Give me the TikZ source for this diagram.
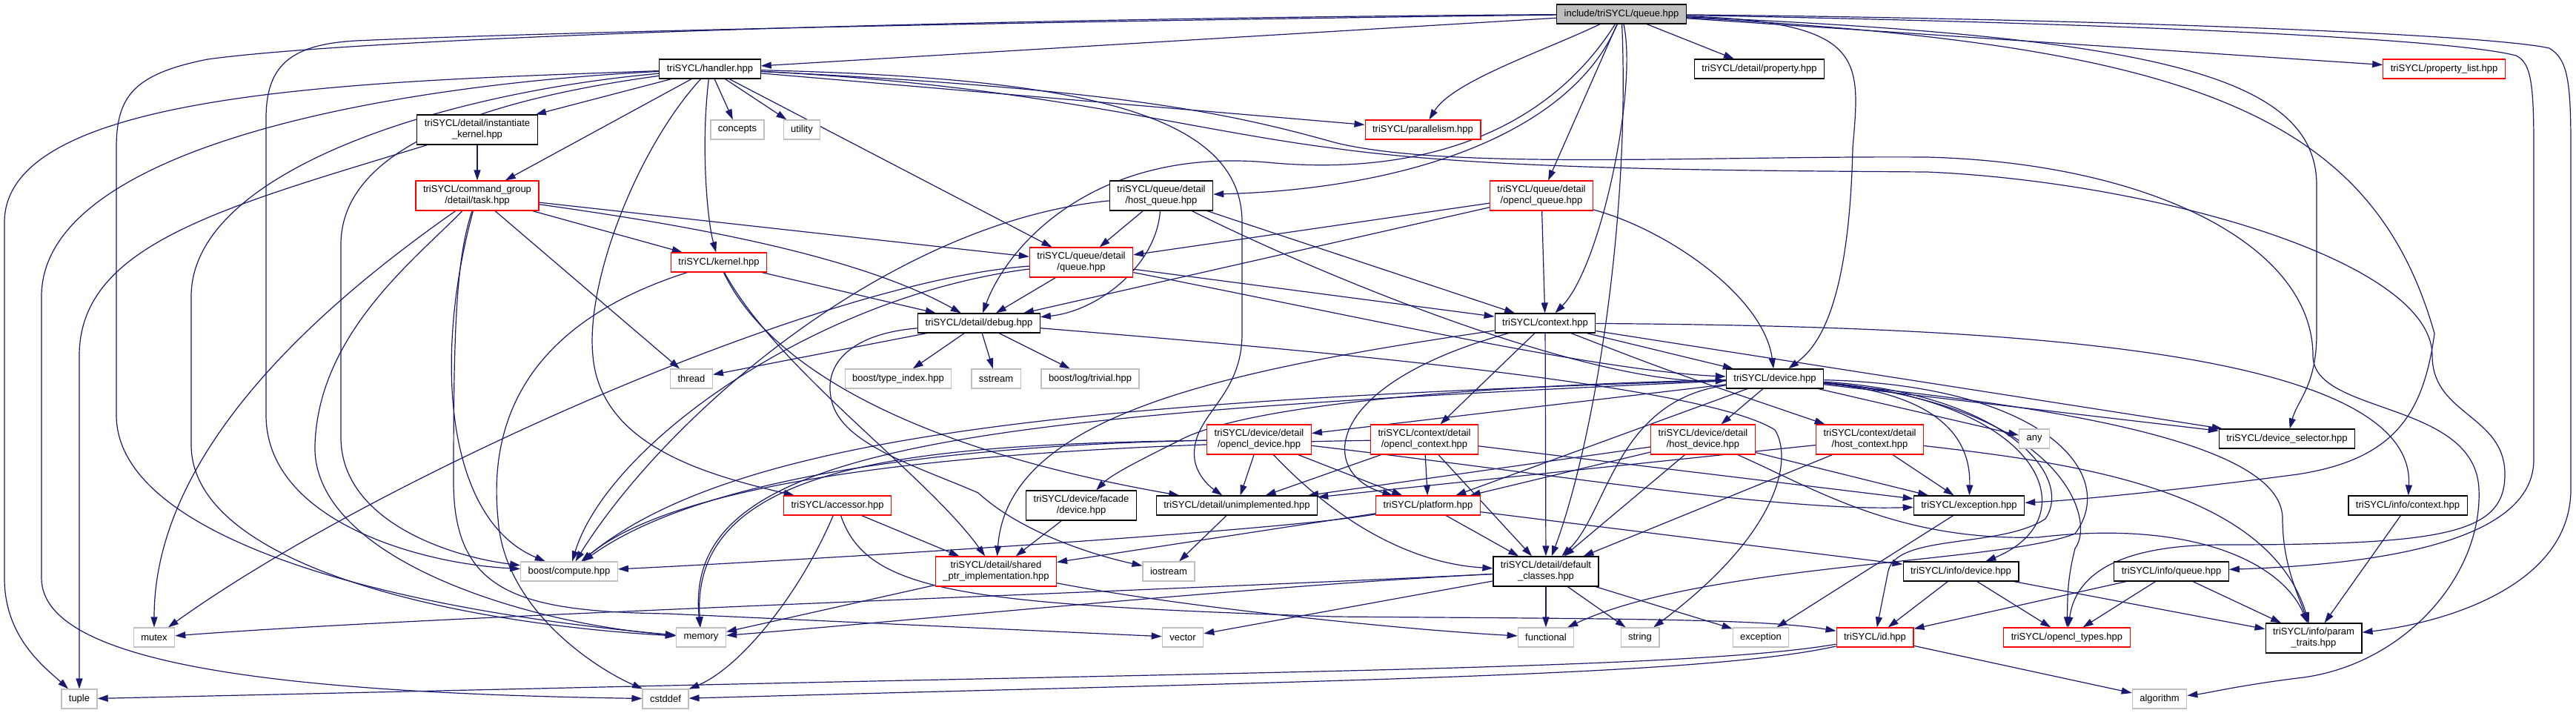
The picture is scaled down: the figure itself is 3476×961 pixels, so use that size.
\documentclass[tikz,border=0pt]{standalone}
\usepackage{fontspec}
\setmainfont{Liberation Sans}
\usetikzlibrary{arrows.meta}
\definecolor{edgeblue}{HTML}{191970}
\definecolor{sysgray}{HTML}{BFBFBF}
\pgfdeclarelayer{background}
\pgfsetlayers{background,main}

\begin{document}
\begin{tikzpicture}[
  x=1pt, y=-1pt,
  hdr/.style={draw=black, line width=1.2pt, fill=white, align=center,
    font=\fontsize{13}{15}\selectfont, inner xsep=10pt, inner ysep=2pt,
    minimum height=26pt},
  hdrred/.style={hdr, draw=red},
  hdrsys/.style={hdr, draw=sysgray},
  two/.style={minimum height=40pt},
  dep/.style={draw=edgeblue, line width=1.2pt, -{Triangle[length=14pt,width=9pt]}},
]
  \useasboundingbox (0,0) rectangle (3476,961);

  \node[hdr, fill=sysgray] (q) at (2188,19) {include/triSYCL/queue.hpp};
  \node[hdr] (handler) at (958,93) {triSYCL/handler.hpp};
  \node[hdr] (prop) at (2374,93) {triSYCL/detail/property.hpp};
  \node[hdrred] (proplist) at (3298,93) {triSYCL/property\_list.hpp};
  \node[hdr, two] (instk) at (644,175) {triSYCL/detail/instantiate\\\_kernel.hpp};
  \node[hdrsys] (concepts) at (995,175) {concepts};
  \node[hdrsys] (utility) at (1082,175) {utility};
  \node[hdrred] (par) at (1920,175) {triSYCL/parallelism.hpp};
  \node[hdrred, two] (task) at (644,264) {triSYCL/command\_group\\/detail/task.hpp};
  \node[hdr, two] (hostq) at (1567,264) {triSYCL/queue/detail\\/host\_queue.hpp};
  \node[hdrred, two] (oclq) at (2080,264) {triSYCL/queue/detail\\/opencl\_queue.hpp};
  \node[hdrred] (kernel) at (970,354) {triSYCL/kernel.hpp};
  \node[hdrred, two] (dqueue) at (1459,354) {triSYCL/queue/detail\\/queue.hpp};
  \node[hdr] (debug) at (1321,436) {triSYCL/detail/debug.hpp};
  \node[hdr] (ctx) at (2085,436) {triSYCL/context.hpp};
  \node[hdrsys] (thread) at (933,511) {thread};
  \node[hdrsys] (typeidx) at (1212,511) {boost/type\_index.hpp};
  \node[hdrsys] (sstream) at (1344,511) {sstream};
  \node[hdrsys] (logtriv) at (1471,511) {boost/log/trivial.hpp};
  \node[hdr] (dev) at (2395,511) {triSYCL/device.hpp};
  \node[hdrred, two] (ocldev) at (1699,593) {triSYCL/device/detail\\/opencl\_device.hpp};
  \node[hdrred, two] (oclctx) at (1922,593) {triSYCL/context/detail\\/opencl\_context.hpp};
  \node[hdrred, two] (hostdev) at (2298,593) {triSYCL/device/detail\\/host\_device.hpp};
  \node[hdrred, two] (hostctx) at (2523,593) {triSYCL/context/detail\\/host\_context.hpp};
  \node[hdrsys] (any) at (2745,592) {any};
  \node[hdr] (devsel) at (3086,592) {triSYCL/device\_selector.hpp};
  \node[hdrred] (accessor) at (1130,682) {triSYCL/accessor.hpp};
  \node[hdr, two] (facade) at (1459,682) {triSYCL/device/facade\\/device.hpp};
  \node[hdr] (unimpl) at (1669,682) {triSYCL/detail/unimplemented.hpp};
  \node[hdrred] (platform) at (1927,682) {triSYCL/platform.hpp};
  \node[hdr] (except) at (2657,682) {triSYCL/exception.hpp};
  \node[hdr] (infoctx) at (3249,682) {triSYCL/info/context.hpp};
  \node[hdrsys] (boost) at (768,771) {boost/compute.hpp};
  \node[hdrred, two] (sharedptr) at (1344,771) {triSYCL/detail/shared\\\_ptr\_implementation.hpp};
  \node[hdrsys] (iostream) at (1577,771) {iostream};
  \node[hdr, two] (defcls) at (2086,771) {triSYCL/detail/default\\\_classes.hpp};
  \node[hdr] (infodev) at (2646,771) {triSYCL/info/device.hpp};
  \node[hdr] (infoq) at (2930,771) {triSYCL/info/queue.hpp};
  \node[hdrsys] (mutex) at (208,860) {mutex};
  \node[hdrsys] (memory) at (946,860) {memory};
  \node[hdrsys] (vector) at (1596,860) {vector};
  \node[hdrsys] (functional) at (2086,860) {functional};
  \node[hdrsys] (string) at (2213,860) {string};
  \node[hdrsys] (exception) at (2376,860) {exception};
  \node[hdrred] (id) at (2530,860) {triSYCL/id.hpp};
  \node[hdrred] (ocltypes) at (2789,860) {triSYCL/opencl\_types.hpp};
  \node[hdr, two] (param) at (3122,861) {triSYCL/info/param\\\_traits.hpp};
  \node[hdrsys] (tuple) at (107,943) {tuple};
  \node[hdrsys] (cstddef) at (898,943) {cstddef};
  \node[hdrsys] (algorithm) at (2914,943) {algorithm};

  \begin{pgfonlayer}{background}
  \fill[white] (0,0) rectangle (3476,961);

  % straight includes
  \foreach \t in {handler,prop,proplist,oclq} \draw[dep] (q) -- (\t);
  \foreach \t in {instk,task,concepts,utility,dqueue,par} \draw[dep] (handler) -- (\t);
  \draw[dep] (instk) -- (task);
  \foreach \t in {kernel,dqueue,thread} \draw[dep] (task) -- (\t);
  \draw[dep] (kernel) -- (debug);
  \foreach \t in {debug,ctx} \draw[dep] (dqueue) -- (\t);
  \foreach \t in {dqueue,ctx} \draw[dep] (hostq) -- (\t);
  \foreach \t in {dqueue,debug,ctx} \draw[dep] (oclq) -- (\t);
  \foreach \t in {thread,typeidx,sstream,logtriv} \draw[dep] (debug) -- (\t);
  \foreach \t in {dev,oclctx,defcls,devsel} \draw[dep] (ctx) -- (\t);
  \foreach \t in {ocldev,hostdev,platform,any,devsel} \draw[dep] (dev) -- (\t);
  \foreach \t in {unimpl,platform} \draw[dep] (ocldev) -- (\t);
  \foreach \t in {platform,unimpl,defcls,except} \draw[dep] (oclctx) -- (\t);
  \foreach \t in {platform,unimpl,defcls,except} \draw[dep] (hostdev) -- (\t);
  \foreach \t in {unimpl,defcls,except} \draw[dep] (hostctx) -- (\t);
  \draw[dep] (facade) -- (sharedptr);
  \draw[dep] (accessor) -- (sharedptr);
  \draw[dep] (unimpl) -- (iostream);
  \foreach \t in {defcls,sharedptr,infodev} \draw[dep] (platform) -- (\t);
  \draw[dep] (sharedptr) -- (memory);
  \foreach \t in {functional,string,exception,vector} \draw[dep] (defcls) -- (\t);
  \draw[dep] (except) -- (exception);
  \draw[dep] (infoctx) -- (param);
  \foreach \t in {ocltypes,param,id} \draw[dep] (infodev) -- (\t);
  \foreach \t in {ocltypes,param,id} \draw[dep] (infoq) -- (\t);
  \draw[dep] (id) -- (algorithm);

  % queue.hpp
  \draw[dep] (q) .. controls (2080,70) and (1960,110) .. (par);
  \draw[dep] (q) .. controls (2210,120) and (2160,360) .. (ctx);
  \draw[dep] (q) .. controls (2200,300) and (2150,600) .. (defcls);
  \draw[dep] (q) .. controls (2120,180) and (1900,255) .. (hostq);
  \draw[dep] (q) .. controls (2080,190) and (1900,235) .. (1720,220)
    .. controls (1480,195) and (1360,330) .. (debug);
  \draw[dep] (q) .. controls (2520,30) and (2510,80) .. (2500,200)
    .. controls (2495,420) and (2450,470) .. (dev);
  \draw[dep] (q) .. controls (2900,50) and (3126,100) .. (3126,250) -- (3126,450)
    .. controls (3126,520) and (3100,540) .. (devsel);
  \draw[dep] (q) .. controls (2950,60) and (3200,150) .. (3285,450)
    .. controls (3270,560) and (3230,620) .. (3100,640)
    .. controls (2950,660) and (2800,675) .. (except);
  \draw[dep] (q) .. controls (2800,30) and (3300,50) .. (3395,75)
    .. controls (3415,85) and (3419,110) .. (3419,200) -- (3419,620)
    .. controls (3419,720) and (3250,760) .. (infoq);
  \draw[dep] (q) .. controls (2800,25) and (3350,45) .. (3440,65)
    .. controls (3465,80) and (3469,110) .. (3469,200) -- (3469,660)
    .. controls (3469,790) and (3300,840) .. (param);
  \draw[dep] (q) .. controls (1300,30) and (700,45) .. (480,55)
    .. controls (390,60) and (359,90) .. (359,160) -- (359,560)
    .. controls (359,700) and (560,760) .. (boost);
  \draw[dep] (q) .. controls (1300,25) and (500,50) .. (280,80)
    .. controls (180,100) and (157,130) .. (157,200) -- (157,560)
    .. controls (157,720) and (500,820) .. (memory);

  % handler.hpp
  \draw[dep] (handler) .. controls (945,200) and (955,300) .. (kernel);
  \draw[dep] (handler) .. controls (500,110) and (6,120) .. (6,300) -- (6,780)
    .. controls (6,860) and (60,900) .. (tuple);
  \draw[dep] (handler) .. controls (520,115) and (56,200) .. (56,400) -- (56,780)
    .. controls (56,900) and (400,935) .. (cstddef);
  \draw[dep] (handler) .. controls (600,125) and (258,230) .. (258,400) -- (258,600)
    .. controls (258,760) and (600,840) .. (memory);
  \draw[dep] (handler) .. controls (650,135) and (460,200) .. (460,330) -- (460,590)
    .. controls (460,700) and (600,750) .. (boost);
  \draw[dep] (handler) .. controls (860,200) and (790,380) .. (800,480)
    .. controls (810,600) and (950,640) .. (accessor);
  \draw[dep] (handler) .. controls (1450,105) and (1676,150) .. (1676,300) -- (1676,450)
    .. controls (1676,540) and (1605,560) .. (1612,620)
    .. controls (1615,640) and (1630,655) .. (unimpl);
  \draw[dep] (handler) .. controls (1500,120) and (1650,150) .. (1800,192)
    .. controls (1950,230) and (2300,210) .. (2600,212)
    .. controls (2900,220) and (3121,330) .. (3121,480)
    .. controls (3121,560) and (3340,540) .. (3345,660)
    .. controls (3350,780) and (3240,900) .. (3100,915)
    .. controls (3020,925) and (2980,935) .. (algorithm);
  \draw[dep] (handler) .. controls (1400,115) and (1600,175) .. (1800,200)
    .. controls (2000,228) and (2300,230) .. (2600,232)
    .. controls (2900,245) and (3282,350) .. (3282,480)
    .. controls (3282,560) and (3380,560) .. (3380,640)
    .. controls (3380,720) and (3300,735) .. (3000,735)
    .. controls (2850,735) and (2800,780) .. (ocltypes);

  % instantiate_kernel, task, kernel
  \draw[dep] (instk) .. controls (300,280) and (107,330) .. (107,480) -- (tuple);
  \draw[dep] (task) .. controls (900,300) and (1150,340) .. (debug);
  \draw[dep] (task) .. controls (450,400) and (208,600) .. (mutex);
  \draw[dep] (task) .. controls (585,480) and (600,700) .. (boost);
  \draw[dep] (task) .. controls (560,350) and (430,450) .. (425,600)
    .. controls (420,750) and (700,840) .. (memory);
  \draw[dep] (task) .. controls (615,350) and (612,450) .. (612,650)
    .. controls (612,800) and (700,825) .. (900,828) -- (vector);
  \draw[dep] (kernel) .. controls (1050,500) and (1250,640) .. (sharedptr);
  \draw[dep] (kernel) .. controls (1030,480) and (1200,600) .. (unimpl);
  \draw[dep] (kernel) .. controls (700,440) and (660,580) .. (672,700)
    .. controls (680,820) and (800,900) .. (cstddef);

  % queue/detail
  \draw[dep] (dqueue) .. controls (1800,420) and (2150,500) .. (dev);
  \draw[dep] (dqueue) .. controls (1100,380) and (500,650) .. (mutex);
  \draw[dep] (dqueue) .. controls (1100,400) and (820,600) .. (boost);
  \draw[dep] (hostq) .. controls (1560,360) and (1480,420) .. (debug);
  \draw[dep] (hostq) .. controls (1800,380) and (2150,520) .. (dev);
  \draw[dep] (hostq) .. controls (1200,300) and (900,560) .. (boost);
  \draw[dep] (oclq) .. controls (2250,310) and (2380,400) .. (dev);

  % debug.hpp
  \draw[dep] (debug) .. controls (1150,450) and (1110,490) .. (1122,540)
    .. controls (1135,600) and (1240,630) .. (1320,665)
    .. controls (1380,720) and (1480,750) .. (iostream);
  \draw[dep] (debug) .. controls (1800,475) and (2300,520) .. (2395,580)
    .. controls (2420,620) and (2400,720) .. (string);

  % context.hpp
  \draw[dep] (ctx) .. controls (2250,500) .. (hostctx);
  \draw[dep] (ctx) .. controls (1780,520) and (1780,640) .. (platform);
  \draw[dep] (ctx) .. controls (1650,500) and (1360,560) .. (sharedptr);
  \draw[dep] (ctx) .. controls (2700,440) and (3260,470) .. (infoctx);

  % device.hpp
  \draw[dep] (dev) .. controls (2180,540) and (2170,690) .. (defcls);
  \draw[dep] (dev) .. controls (1500,540) and (1000,580) .. (boost);
  \draw[dep] (dev) .. controls (1300,560) and (920,600) .. (memory);
  \draw[dep] (dev) .. controls (2000,520) and (1680,545) .. (1590,595)
    .. controls (1540,620) and (1500,640) .. (facade);
  \draw[dep] (dev) .. controls (2600,530) and (2660,580) .. (except);
  \draw[dep] (dev) .. controls (2760,540) and (2820,700) .. (infodev);
  \draw[dep] (dev) .. controls (2900,560) and (3080,620) .. (3080,700)
    .. controls (3080,760) and (3100,800) .. (param);
  \draw[dep] (dev) .. controls (2780,545) and (2830,700) .. (2800,740)
    .. controls (2790,780) and (2790,800) .. (ocltypes);
  \draw[dep] (dev) .. controls (2700,530) and (2800,640) .. (2760,700)
    .. controls (2700,740) and (2560,720) .. (2548,770) -- (id);
  \draw[dep] (dev) .. controls (2760,520) and (2860,640) .. (2800,720)
    .. controls (2700,760) and (2300,760) .. (functional);

  % device and context details
  \draw[dep] (ocldev) .. controls (1800,700) and (1900,760) .. (defcls);
  \draw[dep] (ocldev) .. controls (1300,600) and (950,640) .. (boost);
  \draw[dep] (ocldev) .. controls (1250,600) and (930,620) .. (memory);
  \draw[dep] (ocldev) .. controls (2100,640) and (2400,690) .. (except);
  \draw[dep] (oclctx) .. controls (1500,600) and (950,620) .. (boost);
  \draw[dep] (hostdev) .. controls (2450,660) and (2560,730) .. (2750,725)
    .. controls (2960,700) and (3080,760) .. (param);
  \draw[dep] (hostctx) .. controls (2800,625) and (3060,660) .. (param);

  % lower rows
  \draw[dep] (accessor) .. controls (1080,800) and (1000,900) .. (cstddef);
  \draw[dep] (accessor) .. controls (1170,800) and (1300,815) .. (1800,832)
    .. controls (2200,835) and (2380,835) .. (id);
  \draw[dep] (platform) .. controls (1700,720) and (1000,760) .. (boost);
  \draw[dep] (sharedptr) .. controls (1600,820) and (1900,850) .. (functional);
  \draw[dep] (defcls) .. controls (1700,790) and (1200,840) .. (memory);
  \draw[dep] (defcls) .. controls (1500,800) and (600,830) .. (mutex);
  \draw[dep] (id) .. controls (2300,900) and (1800,905) .. (900,925) -- (tuple);
  \draw[dep] (id) .. controls (2300,912) and (1800,918) .. (cstddef);
  \end{pgfonlayer}
\end{tikzpicture}
\end{document}
